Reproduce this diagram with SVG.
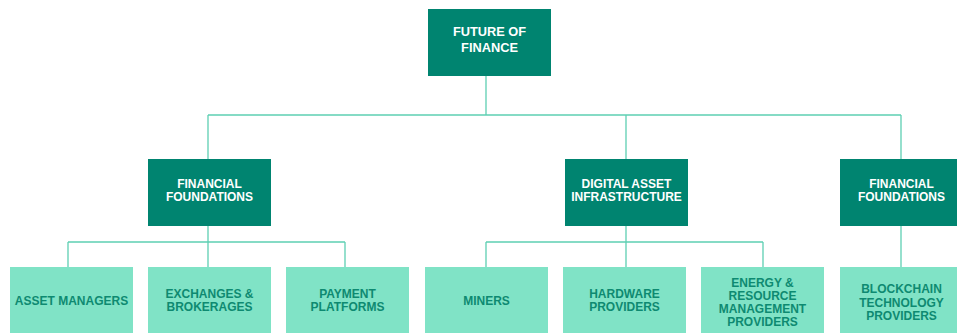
<svg xmlns="http://www.w3.org/2000/svg" width="957" height="333" viewBox="0 0 957 333">
  <style>
    .dark { fill: #008470; }
    .light { fill: #80E3C6; }
    .lbl { font-family: "Liberation Sans", Arial, sans-serif; font-weight: bold; font-size: 12px; text-anchor: middle; }
    .big { font-size: 12.8px; }
    .lbl-dark { fill: #ffffff; }
    .lbl-light { fill: #0E8A71; }
    .wire { fill: none; stroke: #5ECFB3; stroke-width: 1.3; }
  </style>
  <rect width="957" height="333" fill="#ffffff"/>

  <!-- connectors -->
  <g id="connectors" class="wire">
    <path d="M486 75 V115 M208 115 H901 M208 115 V159 M626 115 V159 M901 115 V159"/>
    <path d="M208 226 V242 M68 242 H345 M68 242 V267 M208 242 V267 M345 242 V267"/>
    <path d="M626 226 V242 M486 242 H763 M486 242 V267 M626 242 V267 M763 242 V267"/>
    <path d="M901 226 V267"/>
  </g>

  <!-- root -->
  <g id="future-of-finance">
    <rect class="dark" x="428" y="9" width="123" height="67"/>
    <text class="lbl big lbl-dark" x="489.5" y="35.7">FUTURE OF</text>
    <text class="lbl big lbl-dark" x="489.5" y="51.7">FINANCE</text>
  </g>

  <!-- second level -->
  <g id="financial-foundations-1">
    <rect class="dark" x="148" y="159" width="123" height="67"/>
    <text class="lbl lbl-dark" x="209.5" y="187.5">FINANCIAL</text>
    <text class="lbl lbl-dark" x="209.5" y="200.8">FOUNDATIONS</text>
  </g>
  <g id="digital-asset-infrastructure">
    <rect class="dark" x="565" y="159" width="123" height="67"/>
    <text class="lbl lbl-dark" x="626.5" y="187.5">DIGITAL ASSET</text>
    <text class="lbl lbl-dark" x="626.5" y="200.8">INFRASTRUCTURE</text>
  </g>
  <g id="financial-foundations-2">
    <rect class="dark" x="840" y="159" width="123" height="67"/>
    <text class="lbl lbl-dark" x="901.5" y="187.5">FINANCIAL</text>
    <text class="lbl lbl-dark" x="901.5" y="200.8">FOUNDATIONS</text>
  </g>

  <!-- third level -->
  <g id="asset-managers">
    <rect class="light" x="10" y="267" width="123" height="67"/>
    <text class="lbl lbl-light" x="71.5" y="305">ASSET MANAGERS</text>
  </g>
  <g id="exchanges-brokerages">
    <rect class="light" x="148" y="267" width="123" height="67"/>
    <text class="lbl lbl-light" x="209.5" y="297.8">EXCHANGES &amp;</text>
    <text class="lbl lbl-light" x="209.5" y="311.1">BROKERAGES</text>
  </g>
  <g id="payment-platforms">
    <rect class="light" x="286" y="267" width="123" height="67"/>
    <text class="lbl lbl-light" x="347.5" y="297.8">PAYMENT</text>
    <text class="lbl lbl-light" x="347.5" y="311.1">PLATFORMS</text>
  </g>
  <g id="miners">
    <rect class="light" x="425" y="267" width="123" height="67"/>
    <text class="lbl lbl-light" x="486.5" y="305">MINERS</text>
  </g>
  <g id="hardware-providers">
    <rect class="light" x="563" y="267" width="123" height="67"/>
    <text class="lbl lbl-light" x="624.5" y="297.8">HARDWARE</text>
    <text class="lbl lbl-light" x="624.5" y="311.1">PROVIDERS</text>
  </g>
  <g id="energy-resource-management-providers">
    <rect class="light" x="701" y="267" width="123" height="67"/>
    <text class="lbl lbl-light" x="762.5" y="286.8">ENERGY &amp;</text>
    <text class="lbl lbl-light" x="762.5" y="299.9">RESOURCE</text>
    <text class="lbl lbl-light" x="762.5" y="313">MANAGEMENT</text>
    <text class="lbl lbl-light" x="762.5" y="326">PROVIDERS</text>
  </g>
  <g id="blockchain-technology-providers">
    <rect class="light" x="840" y="267" width="123" height="67"/>
    <text class="lbl lbl-light" x="901.5" y="293.4">BLOCKCHAIN</text>
    <text class="lbl lbl-light" x="901.5" y="306.6">TECHNOLOGY</text>
    <text class="lbl lbl-light" x="901.5" y="319.7">PROVIDERS</text>
  </g>
</svg>
